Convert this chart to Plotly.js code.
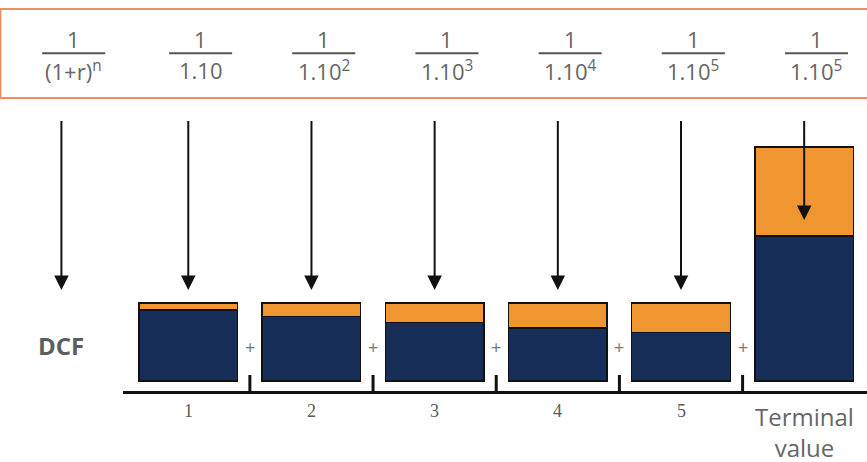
<!DOCTYPE html>
<html>
<head>
<meta charset="utf-8">
<script src="https://cdn.plot.ly/plotly-3.0.1.min.js"></script>
<style>html,body{margin:0;padding:0;background:#fff;}#chart{width:867px;height:462px;}</style>
</head>
<body>
<div id="chart"></div>
<script>
// ---- data ----
var categories = ["1", "2", "3", "4", "5", "Terminal value"];
var tickLabels = ["1", "2", "3", "4", "5", "Terminal<br>value"];
var presentValue = [91, 83, 75, 68, 62, 186];
var discountPart = [9, 17, 25, 32, 38, 114];
var fracNumerators = ["1", "1", "1", "1", "1", "1", "1"];
var fracDenominators = ["(1+r)<sup>n</sup>", "1.10", "1.10<sup>2</sup>", "1.10<sup>3</sup>", "1.10<sup>4</sup>", "1.10<sup>5</sup>", "1.10<sup>5</sup>"];
var rowLabel = "DCF";

// ---- layout helpers ----
var W = 867, H = 462;
var M = {l: 123, r: 0, t: 110, b: 71};
var plotH = H - M.t - M.b;
var xRange = [-0.53, 5.51];
var yRange = [-12.8, 347.5];
var labelCol = -1.03; // column position of the DCF row label
function xp(i) { return (i - xRange[0]) / (xRange[1] - xRange[0]); }
function py(pix) { return (H - M.b - pix) / plotH; }

var gray = "#666666";
var navy = "#172f58";
var orange = "#ef9630";

var traces = [
  {type: "bar", x: categories, y: presentValue, marker: {color: navy, line: {color: "#111", width: 1.5}}, hoverinfo: "skip"},
  {type: "bar", x: categories, y: discountPart, marker: {color: orange, line: {color: "#111", width: 1.5}}, hoverinfo: "skip"}
];

var shapes = [];
var annotations = [];

// outer box
shapes.push({type: "rect", xref: "paper", yref: "paper", x0: xp(-1.525), x1: 1.02, y0: py(98), y1: py(9),
  line: {color: "#ef8f5f", width: 2}, fillcolor: "rgba(0,0,0,0)"});

// column positions: label column then one per category
var cols = [labelCol];
for (var q = 0; q < categories.length; q++) cols.push(q);

// fractions
for (var k = 0; k < fracDenominators.length; k++) {
  var c = cols[k] + 0.1;
  shapes.push({type: "line", xref: "paper", yref: "paper", x0: xp(c - 0.256), x1: xp(c + 0.256), y0: py(53.3), y1: py(53.3),
    line: {color: "#555", width: 2}});
  annotations.push({xref: "paper", yref: "paper", x: xp(c), y: py(39), text: fracNumerators[k], showarrow: false,
    xanchor: "center", yanchor: "middle", font: {family: "Open Sans", size: 22, color: gray}});
  annotations.push({xref: "paper", yref: "paper", x: xp(c), y: py(70), text: fracDenominators[k], showarrow: false,
    xanchor: "center", yanchor: "middle", font: {family: "Open Sans", size: 22, color: gray}});
}

// arrows (from fraction row down to each bar / DCF row)
for (var a = 0; a < cols.length; a++) {
  var tip = (a === cols.length - 1) ? 220 : 290;
  annotations.push({xref: "paper", yref: "paper", x: xp(cols[a]), y: py(tip), text: " ", showarrow: true,
    ax: 0, ay: -(tip - 119), arrowhead: 2, arrowsize: 1.45, arrowwidth: 2, arrowcolor: "#111", standoff: 0,
    font: {size: 1}});
}

// DCF row label
annotations.push({xref: "paper", yref: "paper", x: xp(labelCol), y: py(345), text: "<b>" + rowLabel + "</b>", showarrow: false,
  xanchor: "center", yanchor: "middle", font: {family: "Open Sans", size: 24, color: "#5e5e5e"}});

// plus signs and tick marks between bars
for (var p = 0; p < categories.length - 1; p++) {
  annotations.push({xref: "x", yref: "paper", x: p + 0.5, y: py(347), text: "+", showarrow: false,
    xanchor: "center", yanchor: "middle", font: {family: "Open Sans", size: 18, color: "#777"}});
  shapes.push({type: "line", xref: "x", yref: "paper", x0: p + 0.5, x1: p + 0.5, y0: 0, y1: py(375),
    line: {color: "#111", width: 3}});
}

// category labels
for (var t = 0; t < tickLabels.length; t++) {
  var isText = t === tickLabels.length - 1;
  annotations.push({xref: "x", yref: "paper", x: t, y: isText ? py(432) : py(411), text: tickLabels[t], showarrow: false,
    xanchor: "center", yanchor: "middle",
    font: isText ? {family: "Open Sans", size: 24, color: gray} : {family: "Liberation Serif", size: 18, color: "#5a5a5a"}});
}

var layout = {
  width: W, height: H,
  margin: M,
  paper_bgcolor: "#fff", plot_bgcolor: "#fff",
  barmode: "stack", bargap: 0.2,
  showlegend: false,
  xaxis: {type: "category", range: xRange, showgrid: false, zeroline: false, showticklabels: false, ticks: "",
    showline: true, linecolor: "#111", linewidth: 3, fixedrange: true},
  yaxis: {range: yRange, showgrid: false, zeroline: false, showticklabels: false, ticks: "", showline: false, fixedrange: true},
  shapes: shapes,
  annotations: annotations
};

Plotly.newPlot("chart", traces, layout, {displayModeBar: false, staticPlot: true});
</script>
</body>
</html>
